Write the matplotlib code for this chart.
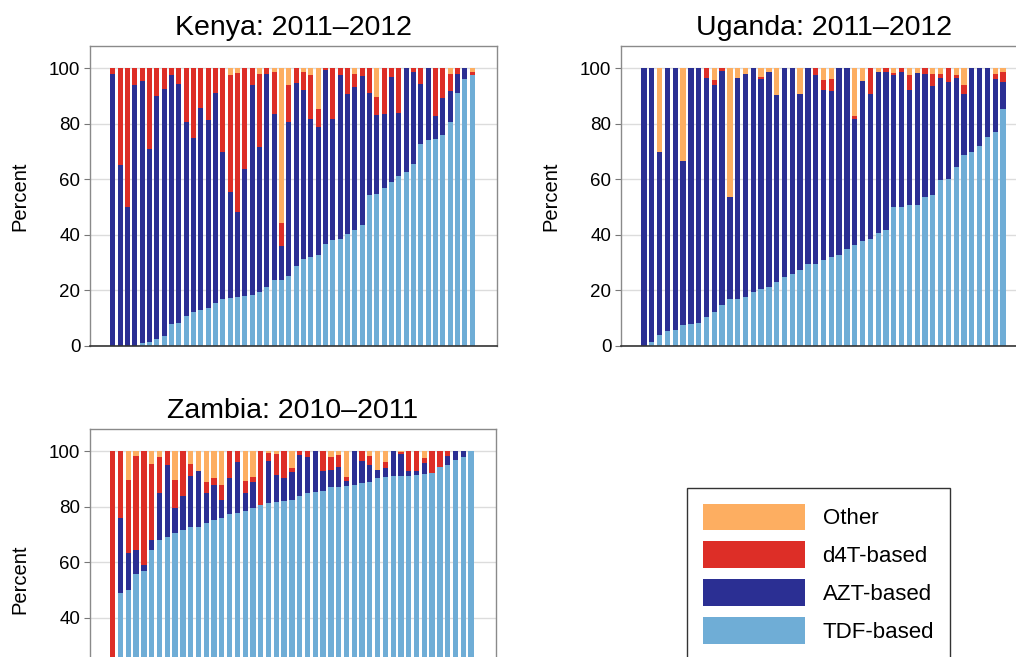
import numpy as np
import matplotlib
matplotlib.use("Agg")
import matplotlib.pyplot as plt
from matplotlib.patches import Patch

plt.rcParams['font.family'] = ['Liberation Sans', 'DejaVu Sans']

categories = ["TDF-based", "AZT-based", "d4T-based", "Other"]
colors = {"TDF-based": "#6fadd6", "AZT-based": "#2b2f93",
          "d4T-based": "#dd2e27", "Other": "#fdae61"}

# ---- Kenya: 2011-2012 (percent per facility) ----
kenya_tdf = [0, 0, 0, 0, 1.2, 1.6, 2.4, 3.6, 7.8, 8.4, 10.9, 12.2, 12.9, 13.8, 15.6, 17.0, 17.4, 17.7, 18.0, 18.3,
             19.4, 21.1, 23.7, 23.7, 25.3, 28.8, 31.2, 32.1, 32.7, 36.7, 38.1, 38.7, 40.5, 41.7, 43.5, 54.3, 54.6, 57.0, 59.1, 61.3,
             62.5, 65.5, 72.9, 74.1, 74.7, 76.1, 80.5, 91.2, 96.0, 97.5]
kenya_azt = [97.8, 65.0, 49.9, 94.0, 94.2, 69.3, 87.5, 88.8, 89.9, 86.0, 69.6, 62.7, 72.8, 67.7, 75.6, 52.7, 37.9, 30.6, 45.7, 75.7,
             52.3, 76.7, 60.0, 12.4, 55.4, 66.0, 60.9, 49.8, 46.2, 62.6, 43.8, 59.0, 50.1, 51.6, 53.6, 36.8, 28.5, 26.5, 37.7, 22.6,
             37.5, 33.2, 21.6, 25.9, 8.2, 13.3, 11.2, 6.9, 4.0, 0]
kenya_d4t = [2.2, 35.0, 50.1, 6.0, 4.6, 29.1, 10.1, 7.6, 2.3, 5.6, 19.5, 25.1, 14.3, 18.5, 8.8, 30.3, 42.1, 50.0, 36.3, 6.0,
             26.1, 2.2, 14.9, 8.2, 13.4, 5.2, 6.6, 15.6, 6.6, 0.7, 18.1, 2.3, 9.4, 4.8, 2.9, 8.9, 6.6, 16.5, 3.2, 16.1,
             0, 1.3, 5.5, 0, 17.1, 10.6, 6.4, 1.9, 0, 1.2]
kenya_other = [0, 0, 0, 0, 0, 0, 0, 0, 0, 0, 0, 0, 0, 0, 0, 0, 2.6, 1.7, 0, 0,
               2.2, 0, 1.4, 55.7, 5.9, 0, 1.3, 2.5, 14.5, 0, 0, 0, 0, 1.9, 0, 0, 10.3, 0, 0, 0,
               0, 0, 0, 0, 0, 0, 1.9, 0, 0, 1.3]

# ---- Uganda: 2011-2012 ----
uganda_tdf = [0, 1.4, 3.8, 5.4, 5.8, 7.4, 7.8, 8.4, 10.3, 12.1, 14.7, 17.1, 17.1, 17.7, 19.4, 20.4, 21.1, 23.0, 24.8, 25.8,
              27.2, 29.4, 29.7, 30.9, 32.1, 32.7, 34.8, 36.3, 37.9, 38.4, 40.8, 41.7, 49.9, 49.9, 50.7, 50.7, 53.6, 54.3, 59.7, 60.0,
              64.3, 68.6, 69.9, 72.1, 75.3, 77.0, 85.4]
uganda_azt = [100, 98.6, 66.1, 94.6, 94.2, 59.3, 92.2, 91.6, 86.2, 81.8, 84.2, 36.6, 79.4, 80.1, 80.6, 75.9, 77.6, 67.3, 75.2, 74.2,
              63.7, 70.6, 67.8, 61.4, 59.7, 67.3, 65.2, 45.6, 57.5, 52.2, 57.9, 57.1, 47.6, 48.7, 41.6, 47.7, 44.5, 39.2, 36.7, 35.0,
              32.3, 22.0, 30.1, 27.9, 24.7, 19.2, 9.7]
uganda_d4t = [0, 0, 0, 0, 0, 0, 0, 0, 3.5, 2.0, 1.1, 0, 0, 0, 0, 0.6, 0, 0, 0, 0,
              0, 0, 2.5, 3.6, 4.5, 0, 0, 0.8, 0, 9.4, 0, 1.2, 0.8, 1.4, 5.1, 0, 1.9, 4.6, 1.7, 5.0,
              0.8, 3.2, 0, 0, 0, 1.9, 3.5]
uganda_other = [0, 0, 30.1, 0, 0, 33.3, 0, 0, 0, 4.1, 0, 46.3, 3.5, 2.2, 0, 3.1, 1.3, 9.7, 0, 0,
                9.1, 0, 0, 4.1, 3.7, 0, 0, 17.3, 4.6, 0, 1.3, 0, 1.7, 0, 2.6, 1.6, 0, 1.9, 1.9, 0,
                2.6, 6.2, 0, 0, 0, 1.9, 1.4]

# ---- Zambia: 2010-2011 ----
zambia_tdf = [0, 48.8, 49.9, 55.9, 56.8, 64.6, 68.0, 69.1, 70.4, 71.8, 72.6, 72.6, 74.1, 75.1, 75.8, 77.5, 77.8, 78.4, 79.4, 80.8,
              81.2, 81.8, 82.0, 82.4, 83.8, 85.0, 85.2, 85.8, 87.0, 87.0, 87.6, 87.8, 88.4, 89.0, 90.2, 90.6, 91.0, 91.0, 91.0, 91.6,
              91.8, 92.2, 94.2, 95.0, 97.0, 97.8, 100]
zambia_azt = [0, 27.2, 13.3, 8.4, 2.2, 3.6, 17.0, 26.1, 9.0, 12.0, 18.4, 20.4, 10.9, 12.9, 6.6, 12.7, 18.4, 6.4, 9.4, 0,
              15.2, 9.8, 8.4, 10.2, 14.8, 12.8, 14.8, 7.0, 6.4, 7.2, 1.6, 12.2, 8.2, 6.2, 3.2, 3.4, 9.0, 8.0, 1.8, 1.4,
              4.0, 0, 0, 3.2, 3.0, 2.2, 0]
zambia_d4t = [100, 24.0, 26.6, 33.9, 41.0, 27.2, 12.8, 4.8, 10.4, 16.2, 4.4, 0, 3.8, 2.4, 5.4, 9.8, 3.8, 4.4, 1.8, 19.2,
              3.0, 7.4, 9.6, 1.4, 1.4, 2.2, 0, 7.2, 4.4, 4.4, 1.4, 0, 3.4, 3.0, 0, 2.2, 0, 0.6, 7.2, 7.0,
              1.8, 7.8, 5.8, 1.8, 0, 0, 0]
zambia_other = [0, 0, 10.2, 1.8, 0, 4.6, 2.2, 0, 10.2, 0, 4.6, 7.0, 11.2, 9.6, 12.2, 0, 0, 10.8, 9.4, 0,
                0.6, 1.0, 0, 6.0, 0, 0, 0, 0, 2.2, 1.4, 9.4, 0, 0, 1.8, 6.6, 3.8, 0, 0.4, 0, 0,
                2.4, 0, 0, 0, 0, 0, 0]

yticks = [0, 20, 40, 60, 80, 100]
legend_labels = ["Other", "d4T-based", "AZT-based", "TDF-based"]

W, H = 1016, 657
fig = plt.figure(figsize=(W / 100, H / 100), dpi=100)


def axes_px(left, top, width, height):
    return fig.add_axes([left / W, 1 - (top + height) / H, width / W, height / H])


def draw(ax, title, tdf, azt, d4t, other, margin_left, margin_right):
    series = [tdf, azt, d4t, other]
    n = len(tdf)
    x = np.arange(n)
    bottom = np.zeros(n)
    for cat, vals in zip(categories, series):
        vals = np.asarray(vals, dtype=float)
        ax.bar(x, vals, bottom=bottom, width=0.68, color=colors[cat], linewidth=0, zorder=2)
        bottom += vals
    ax.set_xlim(-margin_left, n - 1 + margin_right)
    ax.set_ylim(0, 108)
    ax.set_yticks(yticks)
    ax.set_xticks([])
    ax.yaxis.grid(True, color="#dcdcdc", linewidth=1.0, zorder=0)
    ax.set_axisbelow(True)
    ax.tick_params(axis="y", labelsize=13.5, length=4, width=0.8, color="#777777", pad=3)
    ax.set_ylabel("Percent", fontsize=14.5, labelpad=14)
    ax.set_title(title, fontsize=20.5, pad=8)
    for s in ["left", "top", "right"]:
        ax.spines[s].set_color("#8a8a8a")
        ax.spines[s].set_linewidth(1.0)
    ax.spines["bottom"].set_color("#333333")
    ax.spines["bottom"].set_linewidth(1.2)


ax1 = axes_px(90, 46, 407, 300)
draw(ax1, "Kenya: 2011\u20132012", kenya_tdf, kenya_azt, kenya_d4t, kenya_other, 3.1, 3.4)

ax2 = axes_px(621, 46, 407, 300)
draw(ax2, "Uganda: 2011\u20132012", uganda_tdf, uganda_azt, uganda_d4t, uganda_other, 2.95, 3.2)

ax3 = axes_px(90, 429, 406, 300)
draw(ax3, "Zambia: 2010\u20132011", zambia_tdf, zambia_azt, zambia_d4t, zambia_other, 2.92, 3.2)
# the lower part of this panel lies outside the figure; hide the labels that fall off the edge
for lbl, t in zip(ax3.get_yticklabels(), yticks):
    if t < 40:
        lbl.set_visible(False)

handles = [Patch(facecolor=colors[c], edgecolor="none") for c in categories[::-1]]
leg = fig.legend(handles, legend_labels, loc="upper left", bbox_to_anchor=(687 / W, 1 - 488 / H),
                 frameon=True, fancybox=False, edgecolor="black", fontsize=16,
                 handlelength=4.6, handleheight=1.47, labelspacing=0.5, handletextpad=0.8,
                 borderpad=0.7, borderaxespad=0)
leg.get_frame().set_linewidth(1.0)

fig.savefig("out.png", dpi=100)
